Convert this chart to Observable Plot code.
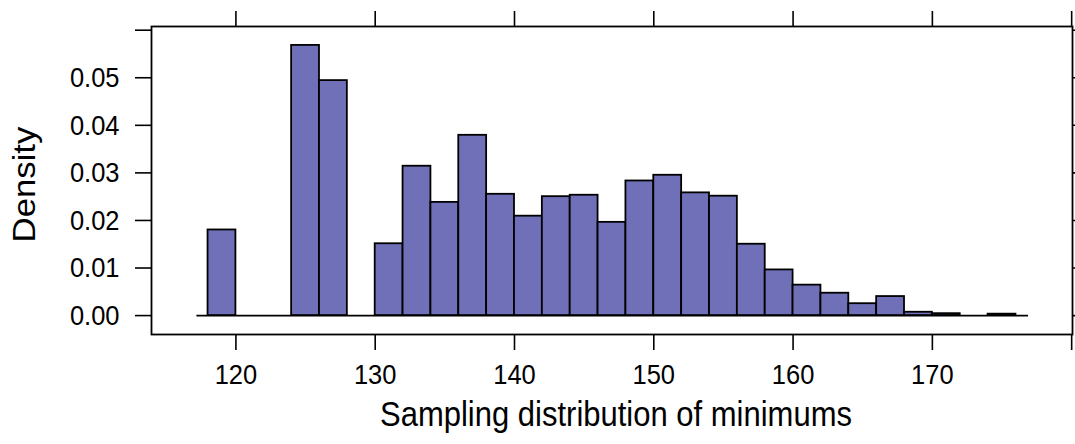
<!DOCTYPE html>
<html><head><meta charset="utf-8">
<script src="https://cdn.jsdelivr.net/npm/d3@7"></script>
<script src="https://cdn.jsdelivr.net/npm/@observablehq/plot@0.6"></script>
<style>body{margin:0;background:#fff}</style>
</head><body><div id="chart"></div>
<script>
// Histogram data (lower bin edges, density per bin)
const binStarts = [118,120,122,124,126,128,130,132,134,136,138,140,142,144,146,148,150,152,154,156,158,160,162,164,166,168,170,172,174];
const densities = [0.0180,0,0,0.0568,0.0494,0,0.0151,0.0314,0.0238,0.0379,0.0255,0.0209,0.0250,0.0253,0.0196,0.0283,0.0295,0.0258,0.0251,0.0150,0.0096,0.0064,0.0047,0.0025,0.0040,0.0007,0.0004,0,0.0003];
const binWidth = 2;
const xTicks = [120,130,140,150,160,170,180];
const xTickLabels = ["120","130","140","150","160","170",""];
const yTicks = [0,0.01,0.02,0.03,0.04,0.05,0.06];
const yTickLabels = ["0.00","0.01","0.02","0.03","0.04","0.05",""];
const baselineRange = [117.2, 176.9];
const xDomain = [113.94, 180.06];
const yDomain = [-0.003976, 0.060776];
const xLabel = "Sampling distribution of minimums";
const yLabel = "Density";

const bins = binStarts.map((s, i) => ({x1: s, x2: s + binWidth, y: densities[i]}));
const font = "'Liberation Sans', Arial, Helvetica, sans-serif";
const textStretch = 1.12;

const chart = Plot.plot({
  width: 1075,
  height: 444,
  marginLeft: 151,
  marginRight: 3,
  marginTop: 26,
  marginBottom: 110,
  style: {fontFamily: font, background: "white", color: "black"},
  x: {domain: xDomain, nice: false},
  y: {domain: yDomain, nice: false},
  marks: [
    Plot.ruleY([0], {x1: baselineRange[0], x2: baselineRange[1], stroke: "black", strokeWidth: 1.8}),
    Plot.rectY(bins, {x1: "x1", x2: "x2", y: "y", fill: "#7070B8", stroke: "black", strokeWidth: 1.8}),
    Plot.frame({stroke: "black", strokeWidth: 1.8}),
    Plot.axisX({anchor: "bottom", ticks: xTicks, tickSize: 16, tickPadding: 14, strokeWidth: 1.6, fontSize: 25.5, label: null,
      tickFormat: d => xTickLabels[xTicks.indexOf(d)]}),
    Plot.axisX({anchor: "top", ticks: xTicks, tickSize: 16, strokeWidth: 1.6, label: null, tickFormat: () => ""}),
    Plot.axisY({anchor: "left", ticks: yTicks, tickSize: 16, tickPadding: 16, strokeWidth: 1.6, fontSize: 25.5, label: null,
      tickFormat: d => yTickLabels[yTicks.indexOf(d)]}),
    Plot.axisY({anchor: "right", ticks: yTicks, tickSize: 16, strokeWidth: 1.6, label: null, tickFormat: () => ""}),
    Plot.text([xLabel], {text: d => d, frameAnchor: "bottom", dx: 4, dy: 80, fontSize: 31, textAnchor: "middle", lineAnchor: "middle"}),
    Plot.text([yLabel], {text: d => d, frameAnchor: "left", dx: -126, dy: 4, rotate: -90, fontSize: 31, textAnchor: "middle", lineAnchor: "middle"})
  ]
});
document.getElementById("chart").appendChild(chart);

// The reference text is slightly stretched vertically; wrap each text and stretch it about its own centre.
chart.querySelectorAll("text").forEach(el => {
  const g = document.createElementNS("http://www.w3.org/2000/svg", "g");
  el.parentNode.insertBefore(g, el);
  g.appendChild(el);
  g.style.transformBox = "fill-box";
  g.style.transformOrigin = "center";
  g.style.transform = `scale(1, ${textStretch})`;
});
</script>
</body></html>
